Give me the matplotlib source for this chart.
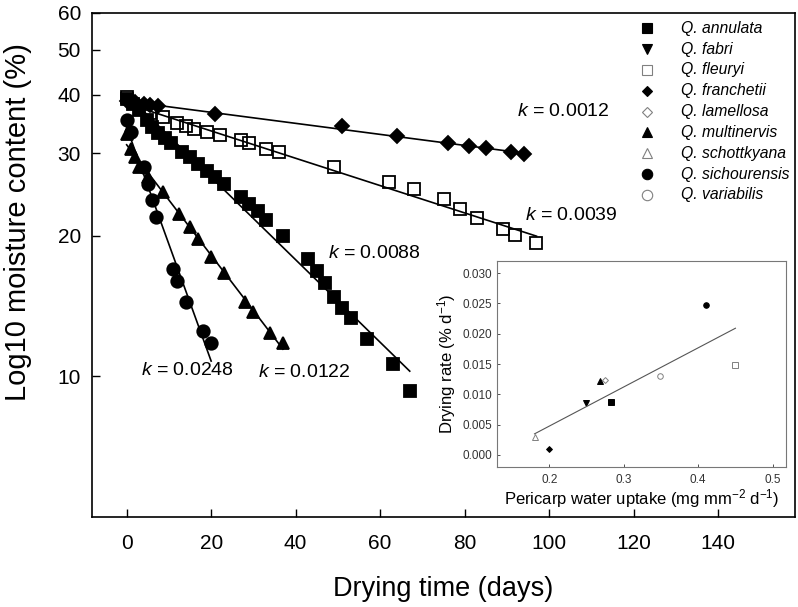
import numpy as np
import matplotlib
matplotlib.use("Agg")
from matplotlib import pyplot as plt

plt.rcParams['font.family'] = ['Liberation Sans', 'DejaVu Sans']
plt.rcParams['mathtext.fontset'] = 'custom'
plt.rcParams['mathtext.rm'] = 'Liberation Sans'
plt.rcParams['mathtext.it'] = 'Liberation Sans:italic'

# drying curves: time (days) and moisture content (%)
franchetii_days = [0, 2, 4, 5.5, 7.5, 21, 51, 64, 76, 81, 85, 91, 94]
franchetii_mc = [38.9, 38.6, 38.3, 38.1, 37.8, 36.5, 34.3, 32.6, 31.5, 31.1, 30.8, 30.2, 29.9]

fleuryi_days = [0, 5.5, 8.5, 12, 14, 16, 19, 22, 27, 29, 33, 36, 49, 62, 68, 75, 79, 83, 89, 92, 97]
fleuryi_mc = [39.7, 36.6, 35.8, 34.8, 34.3, 33.9, 33.4, 32.8, 32.0, 31.5, 30.7, 30.2, 28.0, 26.0,
              25.2, 23.9, 22.8, 21.8, 20.7, 20.1, 19.3]

annulata_days = [0, 1.5, 3, 4.7, 5.9, 7.4, 9, 10.6, 13, 15, 17, 19, 21, 23, 27, 29, 31, 33, 37,
                 43, 45, 47, 49, 51, 53, 57, 63, 67]
annulata_mc = [39.2, 38.3, 37.1, 35.3, 34.2, 33.1, 32.3, 31.5, 30.2, 29.5, 28.5, 27.5, 26.7, 25.8,
               24.2, 23.4, 22.6, 21.6, 20.0, 17.8, 16.8, 15.8, 14.8, 14.0, 13.3, 12.0, 10.6, 9.3]

multinervis_days = [0, 1, 2, 3, 5, 8.5, 12.5, 15, 17, 20, 23, 28, 30, 34, 37]
multinervis_mc = [33.0, 30.7, 29.5, 28.0, 26.7, 24.8, 22.3, 20.9, 19.7, 18.0, 16.6, 14.4, 13.7, 12.4, 11.8]

sichourensis_days = [0, 1, 4, 5, 6, 7, 11, 12, 14, 18, 20]
sichourensis_mc = [35.3, 33.4, 28.0, 25.8, 23.8, 21.9, 17.0, 16.0, 14.4, 12.5, 11.8]

k_labels = ["0.0012", "0.0039", "0.0088", "0.0122", "0.0248"]

# inset: pericarp water uptake vs drying rate
species = ["annulata", "fabri", "fleuryi", "franchetii", "lamellosa",
           "multinervis", "schottkyana", "sichourensis", "variabilis"]
uptake = [0.283, 0.249, 0.450, 0.199, 0.275, 0.268, 0.180, 0.410, 0.349]
rate = [0.0088, 0.0085, 0.0149, 0.0010, 0.0124, 0.0122, 0.0030, 0.0248, 0.0130]

# styles
markers = ['s', 'v', 's', 'D', 'D', '^', '^', 'o', 'o']
filled = [True, True, False, True, False, True, False, True, False]
gray = '#808080'

fig = plt.figure(figsize=(7.98, 6.07), dpi=100)
ax = fig.add_axes([0.1153, 0.1483, 0.8810, 0.8308])

series = [
    (franchetii_days, franchetii_mc, 'D', True, 7.6, k_labels[0], (92.3, 36.8)),
    (fleuryi_days, fleuryi_mc, 's', False, 9, k_labels[1], (94.3, 22.1)),
    (annulata_days, annulata_mc, 's', True, 9, k_labels[2], (47.7, 18.3)),
    (multinervis_days, multinervis_mc, '^', True, 9, k_labels[3], (31.1, 10.2)),
    (sichourensis_days, sichourensis_mc, 'o', True, 9, k_labels[4], (3.3, 10.3)),
]
for days, mc, m, fill, ms, k, pos in series:
    days = np.array(days)
    mc = np.array(mc)
    slope, icpt = np.polyfit(days, np.log10(mc), 1)
    xs = np.array([days.min(), days.max()])
    ax.plot(xs, 10 ** (icpt + slope * xs), color='black', lw=1.2, zorder=2)
    ax.plot(days, mc, ls='none', marker=m, ms=ms, color='black',
            mfc='black' if fill else 'none', mec='black', mew=1.3, zorder=3)
    ax.text(pos[0], pos[1], f"$k$ = {k}", fontsize=14, ha='left', va='center')

ax.set_yscale('log')
ax.set_xlim(-8.2, 158.2)
ax.set_ylim(5, 60)
ax.set_yticks([10, 20, 30, 40, 50, 60])
ax.set_yticklabels(['10', '20', '30', '40', '50', '60'])
ax.yaxis.set_minor_locator(matplotlib.ticker.NullLocator())
ax.set_xticks(range(0, 141, 20))
ax.tick_params(axis='both', direction='in', length=6, width=1, labelsize=15)
ax.tick_params(axis='x', pad=12)
ax.tick_params(axis='y', pad=8)
for sp in ax.spines.values():
    sp.set_linewidth(1.2)
ax.set_xlabel('Drying time (days)', fontsize=19.5, labelpad=17)
ax.set_ylabel('Log10 moisture content (%)', fontsize=21)
ax.yaxis.set_label_coords(-0.085, 0.585)

# legend
for i, (name, m, fill) in enumerate(zip(species, markers, filled)):
    y = 0.969 - i * 0.0413
    ms = 5.2 if m == 'D' else 7.5
    ax.plot(0.7895, y, transform=ax.transAxes, marker=m, ms=ms, ls='none',
            mfc='black' if fill else 'white', mec='black' if fill else gray, mew=0.8,
            clip_on=False)
    ax.text(0.838, y, f"Q. {name}", transform=ax.transAxes, fontsize=11.3,
            style='italic', va='center', ha='left')

# inset
ins = fig.add_axes([0.6232, 0.2306, 0.3618, 0.3394])
for x, y, m, fill in zip(uptake, rate, markers, filled):
    ms = 3 if m == 'D' else 4
    ins.plot(x, y, marker=m, ms=ms, ls='none', mfc='black' if fill else 'white',
             mec='black' if fill else gray, mew=0.7)
b, a = np.polyfit(uptake, rate, 1)
xs = np.array([min(uptake), max(uptake)])
ins.plot(xs, a + b * xs, color='#555555', lw=0.8)
ins.set_xlim(0.130, 0.518)
ins.set_ylim(-0.002, 0.032)
ins.set_xticks([0.2, 0.3, 0.4, 0.5])
ins.set_xticklabels(['0.2', '0.3', '0.4', '0.5'])
ins.set_yticks([0, 0.005, 0.01, 0.015, 0.02, 0.025, 0.03])
ins.set_yticklabels(['0.000', '0.005', '0.010', '0.015', '0.020', '0.025', '0.030'])
ins.tick_params(direction='in', length=2, width=0.6, labelsize=8.5, colors='#333333')
ins.tick_params(axis='x', pad=5)
ins.tick_params(axis='y', pad=4)
for sp in ins.spines.values():
    sp.set_linewidth(0.8)
    sp.set_color('#777777')
ins.set_xlabel('Pericarp water uptake (mg mm$^{-2}$ d$^{-1}$)', fontsize=12, labelpad=1)
ins.set_ylabel('Drying rate (% d$^{-1}$)', fontsize=12, labelpad=3)

fig.savefig('out.png', dpi=100)
